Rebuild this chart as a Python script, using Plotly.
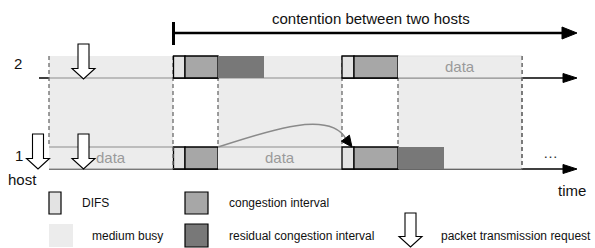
import plotly.graph_objects as go

# ---------------- data (diagram geometry in time-axis units) ----------------
host_labels = ["2", "1"]
host_line_y = [78, 169]          # baseline of each host's time line
box_height = 22

# segments per host: kind, start, end
host2_kinds = ["difs", "cong", "resid", "difs", "cong", "data"]
host2_start = [173.5, 185, 218, 342, 354, 398]
host2_end = [185, 218, 264, 354, 398, 522]

host1_kinds = ["data", "difs", "cong", "data", "difs", "cong", "resid"]
host1_start = [49, 173.5, 185, 218, 342, 354, 398]
host1_end = [173, 185, 218, 342, 354, 398, 444]

busy_start = [49, 218, 398]
busy_end = [173, 342, 522]

request_host2_x = [83.5]
request_host1_x = [38, 83.5]

legend_labels = ["DIFS", "congestion interval", "medium busy",
                 "residual congestion interval", "packet transmission request"]

# ---------------- style ----------------
C_BUSY = "#ececec"
C_DIFS = "#e3e3e3"
C_CONG = "#a7a7a7"
C_RESID = "#787878"
C_EDGE = "#8c8c8c"
C_DASH = "#6a6a6a"
DASH = "4px,3px"
FONT = "Liberation Sans, Arial, Helvetica, sans-serif"

shapes = []
annotations = []


def rect(x0, x1, y0, y1, fill, line_color=None, lw=1.2):
    shapes.append(dict(type="rect", xref="x", yref="y", x0=x0, x1=x1, y0=y0, y1=y1,
                       fillcolor=fill,
                       line=dict(color=line_color or fill, width=lw if line_color else 0),
                       layer="above"))


def line(x0, y0, x1, y1, color="black", width=1.5, dash=None):
    shapes.append(dict(type="line", xref="x", yref="y", x0=x0, y0=y0, x1=x1, y1=y1,
                       line=dict(color=color, width=width, dash=dash), layer="above"))


def path(d, fill="black", color="black", width=1):
    shapes.append(dict(type="path", xref="x", yref="y", path=d, fillcolor=fill,
                       line=dict(color=color, width=width), layer="above"))


def hollow_arrow(cx, y0, y1):
    sw, hw, hh = 5.5, 11.5, 10.5
    d = (f"M {cx-sw},{y0} L {cx+sw},{y0} L {cx+sw},{y1-hh} L {cx+hw},{y1-hh} "
         f"L {cx},{y1} L {cx-hw},{y1-hh} L {cx-sw},{y1-hh} Z")
    path(d, fill="white", color="black", width=1.1)


def text(x, y, s, size=15, color="#111", anchor="center"):
    annotations.append(dict(x=x, y=y, xref="x", yref="y", text=s, showarrow=False,
                            xanchor=anchor, yanchor="middle",
                            font=dict(family=FONT, size=size, color=color)))


top2 = host_line_y[0] - box_height
top1 = host_line_y[1] - box_height

# host time lines (black), with arrow heads
line(39, host_line_y[0], 565, host_line_y[0], width=1.5)
line(49, host_line_y[1], 565, host_line_y[1], width=1.5)
for y in host_line_y:
    path(f"M 563,{y-4.5} L 577,{y} L 563,{y+4.5} Z")

# medium busy regions
for s, e in zip(busy_start, busy_end):
    rect(s, e, top2, host_line_y[1], C_BUSY)
    line(s, host_line_y[0], e, host_line_y[0], color=C_EDGE, width=1.2)
    line(s, host_line_y[1], e, host_line_y[1], color=C_EDGE, width=1.2)
# dashed boundaries
for i, (s, e) in enumerate(zip(busy_start, busy_end)):
    line(s, top2, s, top1 if i == 0 else host_line_y[1], color=C_DASH, width=1.3, dash=DASH)
    line(e, top2, e, host_line_y[1], color=C_DASH, width=1.3, dash=DASH)


def draw_host(kinds, starts, ends, base):
    top = base - box_height
    for k, s, e in zip(kinds, starts, ends):
        if k == "difs":
            rect(s, e, top, base, C_DIFS, "black", 1.3)
        elif k == "cong":
            rect(s, e, top, base, C_CONG, "black", 1.3)
        elif k == "resid":
            rect(s, e, top, base, C_RESID)
        elif k == "data":
            rect(s, e, top, base, C_BUSY)
            line(s, top, e, top, color=C_EDGE if base == host_line_y[1] else "#e2e2e2", width=1.2)
            line(s, base, e, base, color=C_EDGE, width=1.2)
            text((s + e) / 2, base - box_height / 2 - 0.5, "data", size=15, color="#9a9a9a")


draw_host(host2_kinds, host2_start, host2_end, host_line_y[0])
draw_host(host1_kinds, host1_start, host1_end, host_line_y[1])
# dashed edges running through data boxes
line(173, top1, 173, host_line_y[1], color=C_DASH, width=1.3, dash=DASH)
line(522, top2, 522, host_line_y[1], color=C_DASH, width=1.3, dash=DASH)

# curved arrow (deferral)
path("M 218,147 C 270,130 330,110 346,139", fill="rgba(0,0,0,0)", color="#8a8a8a", width=1.5)
path("M 352,147 L 341.4,141.2 L 349.4,135.2 Z")

# packet transmission requests
for x in request_host2_x:
    hollow_arrow(x, 44, host_line_y[0] + 1)
for x in request_host1_x:
    hollow_arrow(x, 134, host_line_y[1])

# contention bracket arrow
line(173.5, 22, 173.5, 45, width=3)
line(173.5, 33, 563, 33, width=2.6)
path("M 562,27 L 577,33 L 562,39 Z")
text(370.5, 18, "contention between two hosts", size=15)

# host labels
text(18, 63, host_labels[0], size=15)
text(19, 155, host_labels[1], size=15)
text(22.5, 179, "host", size=15)
text(550, 152, "…", size=15, color="#333")
text(572, 190, "time", size=15)

# legend
rect(49, 61, 192, 214, C_DIFS, "black", 1.2)
text(80, 203, legend_labels[0], size=12, anchor="left")
rect(185, 208, 192, 214, C_CONG, "black", 1.2)
text(227, 203, legend_labels[1], size=12, anchor="left")
rect(49, 73, 224, 247, C_BUSY)
text(90, 236, legend_labels[2], size=12, anchor="left")
rect(185, 208, 224, 247, C_RESID, "black", 1.2)
text(227, 236, legend_labels[3], size=12, anchor="left")
hollow_arrow(410.5, 213, 247)
text(439, 236, legend_labels[4], size=12, anchor="left")

fig = go.Figure()
fig.add_trace(go.Scatter(x=[0, 595], y=[0, 248], mode="markers",
                         marker=dict(opacity=0), hoverinfo="skip", showlegend=False))
fig.update_layout(
    width=595, height=248,
    margin=dict(l=0, r=0, t=0, b=0),
    paper_bgcolor="white", plot_bgcolor="white",
    xaxis=dict(range=[0, 595], visible=False, fixedrange=True),
    yaxis=dict(range=[248, 0], visible=False, fixedrange=True),
    shapes=shapes, annotations=annotations, showlegend=False,
)
fig.write_html(
    "out.html",
    config={"staticPlot": True},
    post_script="document.body.style.margin='0';document.body.style.padding='0';"
                "document.body.style.overflow='hidden';",
)
